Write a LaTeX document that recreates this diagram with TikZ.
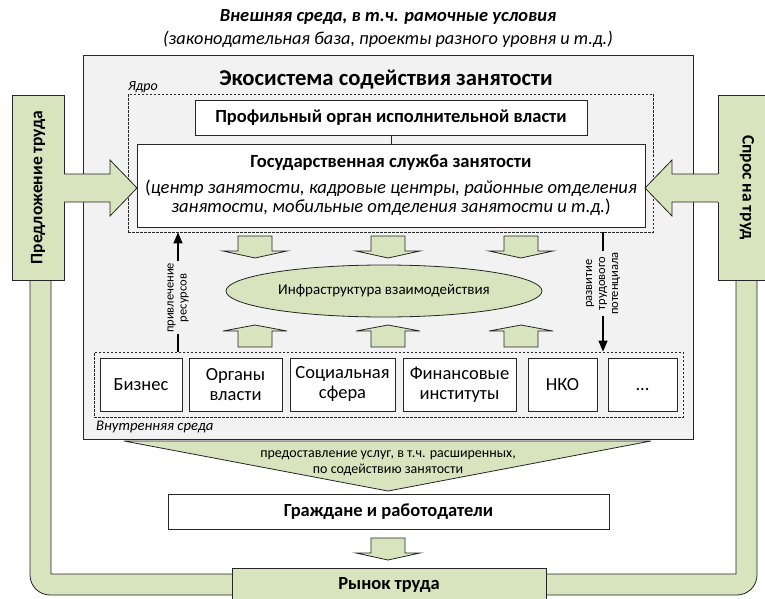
\documentclass[tikz,border=0pt]{standalone}
\usepackage{fontspec}
\setmainfont{Carlito}
\usetikzlibrary{arrows.meta,shapes.geometric}
\definecolor{gfill}{HTML}{D7E4BD}
\definecolor{greyfill}{HTML}{F2F2F2}
\definecolor{edge}{HTML}{262626}
\newcommand{\blkdown}[2]{\path[grn] (#1-17,#2) -- (#1+17,#2) -- (#1+17,#2+15) -- (#1+32,#2+15) -- (#1,#2+22) -- (#1-32,#2+15) -- (#1-17,#2+15) -- cycle;}
\newcommand{\blkup}[2]{\path[grn] (#1,#2) -- (#1+32,#2+6) -- (#1+17,#2+6) -- (#1+17,#2+22) -- (#1-17,#2+22) -- (#1-17,#2+6) -- (#1-32,#2+6) -- cycle;}
\begin{document}
\begin{tikzpicture}[x=1pt,y=-1pt,
  box/.style={draw=edge,line width=0.8pt,fill=white,inner sep=0pt,align=center},
  grn/.style={draw=edge,line width=0.8pt,fill=gfill},
  dsh/.style={draw=edge,line width=0.7pt,dash pattern=on 2.5pt off 1.5pt,inner sep=0pt},
  thinarr/.style={draw=black,line width=1.3pt,-{Triangle[length=11pt,width=9pt]}},
  lbl/.style={fill=greyfill,inner sep=1.5pt,align=center,rotate=90,font=\fontsize{12.5}{13}\selectfont},
  fside/.style={font=\fontsize{17.5}{20}\selectfont\bfseries},
  fbox/.style={font=\fontsize{18.5}{20}\selectfont},
  fbig/.style={font=\fontsize{18.5}{21}\selectfont\bfseries}
]
\useasboundingbox (0,0) rectangle (765,599);
\clip (0,0) rectangle (765,599);
\fill[white] (0,0) rectangle (765,599);

% titles
\node[font=\fontsize{18.5}{20}\selectfont\bfseries\itshape] (t1) at (388,17) {Внешняя среда, в т.ч. рамочные условия};
\node[font=\fontsize{18.3}{20}\selectfont\itshape] (t2) at (388,39) {(законодательная база, проекты разного уровня и т.д.)};

% U band
\path[grn] (30,280) -- (30,575) .. controls (30,586) and (39,595) .. (50,595) -- (737,595) .. controls (748,595) and (757,586) .. (757,575) -- (757,280) -- (736,280) -- (736,574) -- (51,574) -- (51,280) -- cycle;

% side boxes
\node[grn,inner sep=0pt,rotate=90,minimum width=185pt,minimum height=52pt,fside] (supply) at (38,187.5) {Предложение труда};
\node[grn,inner sep=0pt,rotate=-90,minimum width=185pt,minimum height=58pt,fside] (demand) at (747,187.5) {Спрос на труд};

% ecosystem
\node[draw=edge,fill=greyfill,line width=0.8pt,minimum width=610pt,minimum height=384pt,inner sep=0pt] (eco) at (388,247) {};
\node[font=\fontsize{22.7}{26}\selectfont\bfseries] (ecot) at (386,80) {Экосистема содействия занятости};

\node[dsh,minimum width=525pt,minimum height=138pt] (core) at (390.5,163) {};
\node[anchor=west,font=\fontsize{14}{16}\selectfont\itshape,inner sep=0pt] (yadro) at (128,87) {Ядро};

\node[box,minimum width=392pt,minimum height=35pt,fbig] (prof) at (391,117.5) {Профильный орган исполнительной власти};
\node[box,minimum width=508pt,minimum height=83pt,font=\fontsize{18.6}{18.5}\selectfont] (gsz) at (391,185.5)
  {\textbf{Государственная служба занятости}\\[8pt]
   (\textit{центр занятости, кадровые центры, районные отделения}\\
   \textit{занятости, мобильные отделения занятости и т.д.})\rule[-4pt]{0pt}{0pt}};
\draw[draw=edge,line width=0.8pt] (prof.south) -- (gsz.north);

% big side arrows
\fill[gfill] (62,174) -- (110,174) -- (110,160) -- (137,188) -- (110,216) -- (110,202) -- (62,202) -- cycle;
\draw[draw=edge,line width=0.8pt] (64,174) -- (110,174) -- (110,160) -- (137,188) -- (110,216) -- (110,202) -- (64,202);
\fill[gfill] (720,174) -- (672,174) -- (672,160) -- (645,188) -- (672,216) -- (672,202) -- (720,202) -- cycle;
\draw[draw=edge,line width=0.8pt] (718,174) -- (672,174) -- (672,160) -- (645,188) -- (672,216) -- (672,202) -- (718,202);

% infrastructure
\blkdown{255}{236}\blkdown{388}{236}\blkdown{521}{236}
\node[grn,ellipse,minimum width=316pt,minimum height=52pt,inner sep=0pt,font=\fontsize{15}{17}\selectfont] (infra) at (384,291) {Инфраструктура взаимодействия};
\blkup{255}{325}\blkup{388}{325}\blkup{521}{325}

% inner environment
\node[dsh,minimum width=589pt,minimum height=65pt] (inner) at (388.5,384.5) {};
\node[box,minimum width=82pt,minimum height=53pt,fbox] (b1) at (141,384.5) {Бизнес};
\node[box,minimum width=93pt,minimum height=53pt,fbox] (b2) at (235.5,384.5) {Органы\\власти};
\node[box,minimum width=105pt,minimum height=53pt,fbox] (b3) at (342.5,384.5) {Социальная\\сфера};
\node[box,minimum width=113pt,minimum height=53pt,fbox] (b4) at (459.5,384.5) {Финансовые\\институты};
\node[box,minimum width=69pt,minimum height=53pt,fbox] (b5) at (562.5,384.5) {НКО};
\node[box,minimum width=69pt,minimum height=53pt,fbox] (b6) at (642.5,384.5) {\vphantom{НКО}...};
\node[anchor=west,font=\fontsize{14.7}{17}\selectfont\itshape,inner sep=0pt] (vn) at (96,427) {Внутренняя среда};

% thin arrows
\coordinate (xl) at (178,0);
\coordinate (xr) at (603,0);
\draw[thinarr] (inner.north -| xl) -- node[lbl,pos=0.45] {привлечение\\ресурсов} (core.south -| xl);
\draw[thinarr] (core.south -| xr) -- node[lbl,pos=0.43] {развитие\\трудового\\потенциала} (inner.north -| xr);

% services trapezoid
\path[grn] (124,441) -- (651,441) -- (388,491) -- cycle;
\node[font=\fontsize{14}{16}\selectfont,align=center] (svc) at (388,463.5) {предоставление услуг, в т.ч. расширенных,\\по содействию занятости};

\node[box,minimum width=441pt,minimum height=35pt,fbig] (cit) at (388.5,511.5) {Граждане и работодатели};
\blkdown{388}{538}
\node[grn,inner sep=0pt,minimum width=314pt,minimum height=33pt,fbig] (market) at (389,584.5) {Рынок труда};
\end{tikzpicture}
\end{document}
